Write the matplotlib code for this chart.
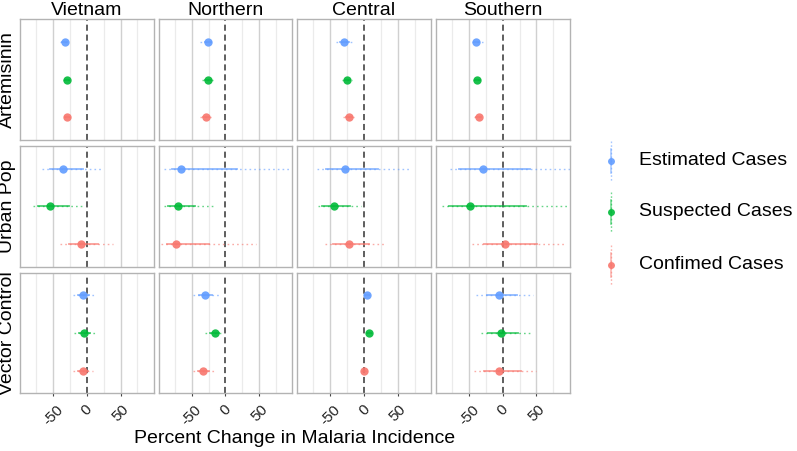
import numpy as np
import matplotlib
matplotlib.use("Agg")
import matplotlib.pyplot as plt

plt.rcParams['font.family'] = ['Liberation Sans', 'DejaVu Sans']

regions = ["Vietnam", "Northern", "Central", "Southern"]
variables = ["Artemisinin", "Urban Pop", "Vector Control"]
series = ["Estimated Cases", "Suspected Cases", "Confimed Cases"]
colors = ["#619CFF", "#00BA38", "#F8766D"]
xticks = [-50, 0, 50]

# [variable][region][series]
estimate = np.array([
    [[-33, -29, -29], [-26, -26, -29], [-30, -25, -23], [-40, -38, -35]],
    [[-35, -55, -8], [-66, -71, -73], [-28, -44, -23], [-29, -48, 3]],
    [[-5, -4, -5], [-30, -15, -33], [4, 7, 0], [-5, -2, -5]],
])
inner_lo = np.array([
    [[-37, -32, -32], [-31, -30, -33], [-36, -28, -27], [-43, -41, -39]],
    [[-55, -72, -27], [-79, -85, -87], [-56, -62, -46], [-65, -79, -28]],
    [[-13, -11, -13], [-39, -23, -41], [2, 5, -2], [-23, -21, -28]],
])
inner_hi = np.array([
    [[-29, -26, -26], [-22, -22, -25], [-23, -21, -18], [-35, -34, -32]],
    [[-5, -26, 17], [17, -45, -25], [20, -21, 8], [41, 34, 51]],
    [[3, 4, 2], [-20, -9, -24], [7, 10, 2], [21, 22, 27]],
])
outer_lo = np.array([
    [[-40, -35, -34], [-38, -35, -38], [-42, -32, -31], [-46, -44, -42]],
    [[-67, -80, -40], [-91, -91, -96], [-70, -68, -58], [-78, -90, -46]],
    [[-21, -19, -21], [-48, -30, -48], [0, 3, -4], [-40, -32, -42]],
])
outer_hi = np.array([
    [[-26, -22, -24], [-18, -18, -19], [-17, -18, -13], [-29, -30, -29]],
    [[23, -7, 39], [120, -18, 45], [67, -4, 33], [120, 120, 92]],
    [[10, 12, 9], [-10, -5, -16], [9, 12, 4], [45, 41, 49]],
])

W, H = 797, 451
fig, axes = plt.subplots(3, 4, figsize=(W / 100, H / 100), dpi=100)
fig.subplots_adjust(left=20 / W, right=569.5 / W, top=1 - 19.3 / H,
                    bottom=1 - 393.3 / H, wspace=0.037, hspace=0.05)

ypos = [3, 2, 1]
for r, var in enumerate(variables):
    for c, reg in enumerate(regions):
        ax = axes[r, c]
        ax.set_xlim(-99, 99)
        ax.set_ylim(0.4, 3.6)
        for g in [-75, -25, 25, 75]:
            ax.axvline(g, color="#EBEBEB", lw=0.9, zorder=0)
        for g in [-50, 50]:
            ax.axvline(g, color="#D0D0D0", lw=1.0, zorder=0)
        ax.axvline(0, color="#333333", lw=1.1, ls=(0, (4, 2.5)), zorder=1)
        for s in range(3):
            y = ypos[s]
            ax.plot([outer_lo[r, c, s], outer_hi[r, c, s]], [y, y], color=colors[s],
                    lw=1.0, ls=(0, (1.2, 2.2)), alpha=0.6, zorder=2)
            ax.plot([inner_lo[r, c, s], inner_hi[r, c, s]], [y, y], color=colors[s],
                    lw=1.3, alpha=0.7, zorder=3)
            ax.plot(estimate[r, c, s], y, "o", color=colors[s], ms=6,
                    mec="none", alpha=0.9, zorder=4)
        for sp in ax.spines.values():
            sp.set_color("#B3B3B3")
            sp.set_linewidth(1.0)
        ax.set_yticks([])
        ax.set_xticks(xticks)
        if r == 2:
            ax.tick_params(axis="x", length=2.5, width=0.8, color="#444444", pad=4)
            ax.set_xticklabels([str(t) for t in xticks], rotation=45,
                               ha="center", va="top", fontsize=11, color="#222222")
        else:
            ax.tick_params(axis="x", length=0)
            ax.set_xticklabels([])
        if r == 0:
            ax.set_title(reg, fontsize=14, pad=1.5)
        if c == 0:
            ax.text(-0.095, 0.5, var, transform=ax.transAxes, rotation=90,
                    ha="center", va="center", fontsize=14)

fig.text(294.5 / W, 1 - 438.5 / H, "Percent Change in Malaria Incidence",
         ha="center", va="center", fontsize=14)

# legend drawn in pixel coordinates
lax = fig.add_axes([0, 0, 1, 1])
lax.set_xlim(0, W)
lax.set_ylim(H, 0)
lax.axis("off")
for s, (lab, col) in enumerate(zip(series, colors)):
    yc = [160.5, 212, 264.5][s]
    lax.plot([611, 611], [yc - 20, yc + 20], color=col, lw=1.0,
             ls=(0, (1.2, 1.5)), alpha=0.55)
    lax.plot([611, 611], [yc - 12, yc + 12], color=col, lw=1.2, alpha=0.5)
    lax.plot(611, yc, "o", color=col, ms=5, mec="none", alpha=0.9)
    lax.text(639, yc, lab, ha="left", va="center", fontsize=14)

fig.savefig("out.png", dpi=100)
